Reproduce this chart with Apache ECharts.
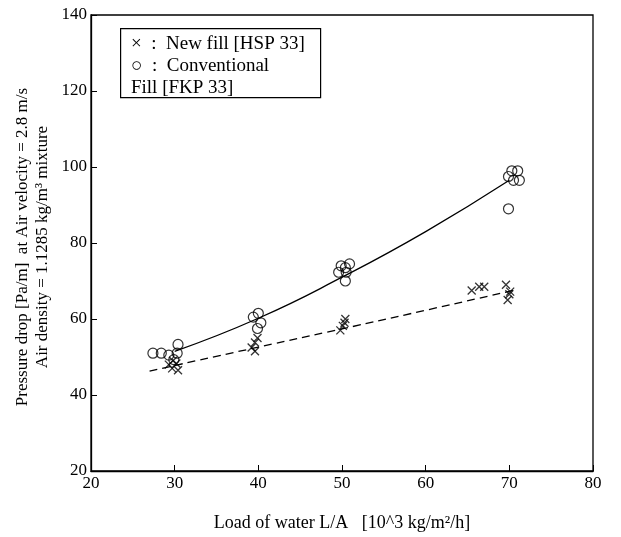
<!DOCTYPE html>
<html>
<head>
<meta charset="UTF-8">
<title>Pressure drop</title>
<script src="https://cdn.jsdelivr.net/npm/echarts@6/dist/echarts.min.js"></script>
<style>
  body { margin: 0; background: #fff; }
  #chart { width: 621px; height: 537px; }
</style>
</head>
<body>
<div id="chart"></div>
<script>
// values
var newFill = [
    [29.3, 48], [29.8, 49], [29.7, 47], [30.4, 46.5], [30.2, 48.3],
    [39.2, 52.5], [39.6, 53.8], [39.9, 55], [39.6, 51.5],
    [49.8, 57], [50.1, 58.2], [50.4, 60], [50.3, 59],
    [65.5, 67.5], [66.4, 68.5], [67, 68.5], [69.6, 69], [70, 66.5], [69.8, 65], [70.1, 67.2]
];
var conventional = [
    [27.4, 51], [28.4, 51], [29.3, 50.5], [29.9, 49.3], [30.3, 51], [30.4, 53.3],
    [39.4, 60.5], [40, 61.5], [40.3, 59], [39.9, 57.5],
    [49.6, 72.3], [49.9, 74], [50.4, 73.5], [50.9, 74.5], [50.4, 70], [50.5, 72.3],
    [69.9, 97.5], [70.3, 99], [71, 99], [70.5, 96.5], [71.2, 96.5], [69.9, 89]
];
// fitted curves as drawn
var convFit = [[30, 51.5], [40, 60.2], [50, 71], [60, 83], [70, 96.5]];
var newFit = [[27, 46.3], [40, 52.6], [50, 57.4], [60, 62.3], [71, 67.8]];

var xTicks = [20, 30, 40, 50, 60, 70, 80];
var yTicks = [20, 40, 60, 80, 100, 120, 140];

var serif = "'Liberation Serif', 'DejaVu Serif', serif";
var chart = echarts.init(document.getElementById('chart'));

chart.setOption({
    animation: false,
    grid: { left: 91, right: 28, top: 15, bottom: 60, show: true, borderColor: '#000', borderWidth: 1.3 },
    xAxis: {
        type: 'value', min: xTicks[0], max: xTicks[xTicks.length - 1], interval: 10,
        name: 'Load of water L/A   [10^3 kg/m²/h]',
        nameLocation: 'middle', nameGap: 43,
        nameTextStyle: { fontFamily: serif, fontSize: 18, color: '#000' },
        axisLine: { lineStyle: { color: '#000', width: 1.3 } },
        axisTick: { inside: true, length: 6, lineStyle: { color: '#000' } },
        axisLabel: { fontFamily: serif, fontSize: 17, color: '#000', margin: 4 },
        splitLine: { show: false }
    },
    yAxis: {
        type: 'value', min: yTicks[0], max: yTicks[yTicks.length - 1], interval: 20,
        axisLine: { show: true, lineStyle: { color: '#000', width: 1.3 } },
        axisTick: { show: true, inside: true, length: 6, lineStyle: { color: '#000' } },
        axisLabel: { fontFamily: serif, fontSize: 17, color: '#000', margin: 4 },
        splitLine: { show: false }
    },
    graphic: [
        {
            type: 'text', x: 33, y: 247, rotation: Math.PI / 2,
            style: {
                text: 'Pressure drop [Pa/m]  at Air velocity = 2.8 m/s\nAir density = 1.1285 kg/m³ mixture',
                font: '17px ' + serif, fill: '#000', align: 'center', verticalAlign: 'middle', lineHeight: 20
            }
        },
        {
            type: 'rect', left: 120, top: 28,
            shape: { width: 200, height: 69 },
            style: { fill: '#fff', stroke: '#000', lineWidth: 1.2 }
        },
        {
            type: 'text', left: 131, top: 33,
            style: {
                text: '×  :  New fill [HSP 33]\n○  :  Conventional\nFill [FKP 33]',
                font: '19px ' + serif, fill: '#000', lineHeight: 22
            }
        }
    ],
    series: [
        {
            type: 'scatter', data: newFill,
            symbol: 'path://M0,0L10,10M10,0L0,10', symbolSize: 8,
            itemStyle: { color: 'none', borderColor: '#000', borderWidth: 1.3 }
        },
        {
            type: 'scatter', data: conventional,
            symbol: 'circle', symbolSize: 10,
            itemStyle: { color: 'rgba(0,0,0,0)', borderColor: '#000', borderWidth: 1.2 }
        },
        {
            type: 'line', data: convFit, smooth: true, symbol: 'none',
            lineStyle: { color: '#000', width: 1.3 }
        },
        {
            type: 'line', data: newFit, smooth: true, symbol: 'none',
            lineStyle: { color: '#000', width: 1.3, type: [8, 5] }
        }
    ]
});
</script>
</body>
</html>
